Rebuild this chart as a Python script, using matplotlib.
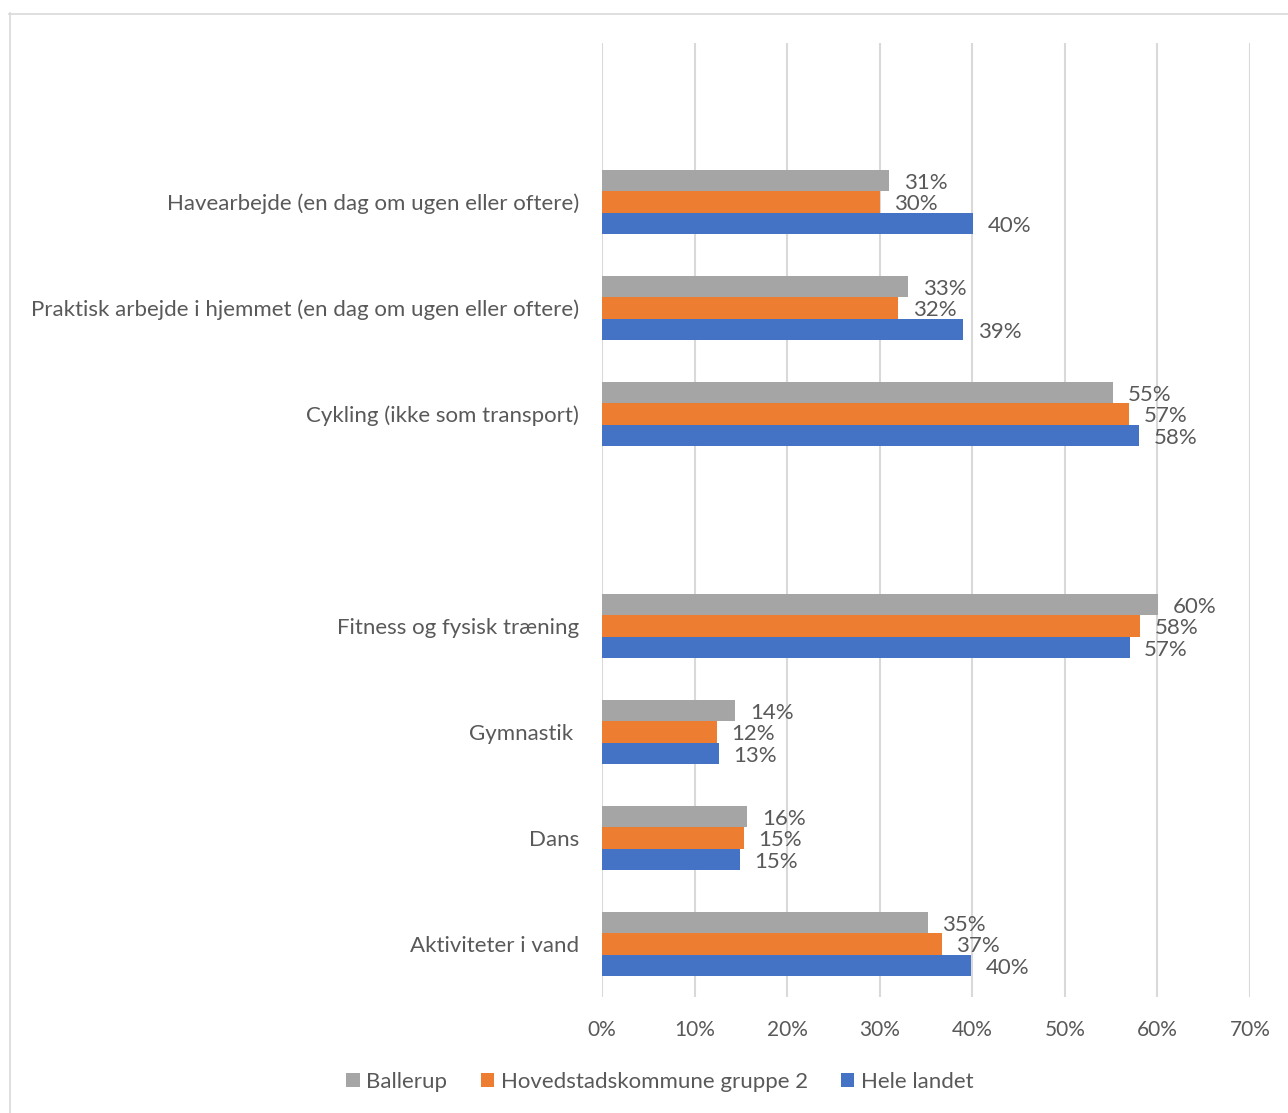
import matplotlib
matplotlib.use("Agg")
import matplotlib.pyplot as plt
from matplotlib.lines import Line2D
from matplotlib.patches import Patch

categories = [
    "Havearbejde (en dag om ugen eller oftere)",
    "Praktisk arbejde i hjemmet (en dag om ugen eller oftere)",
    "Cykling (ikke som transport)",
    "Fitness og fysisk træning",
    "Gymnastik ",
    "Dans",
    "Aktiviteter i vand",
]
# slot positions (top slot 0 and slot 4 are empty in the original)
slots = [1, 2, 3, 5, 6, 7, 8]

series_names = ["Ballerup", "Hovedstadskommune gruppe 2", "Hele landet"]
ballerup = [31.0, 33.1, 55.2, 60.1, 14.4, 15.7, 35.2]
hovedstad = [30.0, 32.0, 56.9, 58.1, 12.4, 15.3, 36.7]
hele = [40.1, 39.0, 58.0, 57.0, 12.6, 14.9, 39.9]
xticks = [0, 10, 20, 30, 40, 50, 60, 70]

colors = ["#A5A5A5", "#ED7D31", "#4472C4"]
txt = "#595959"
font = ["Lato", "DejaVu Sans"]
plt.rcParams["font.family"] = font
FS = 16

W, H = 1288, 1113
fig = plt.figure(figsize=(W / 100, H / 100), dpi=100)
ax = fig.add_axes([602 / W, 1 - 997 / H, (1250 - 602) / W, (997 - 43) / H])

bh = 0.2
offsets = [-0.2, 0.0, 0.2]
for vals, off, col in zip([ballerup, hovedstad, hele], offsets, colors):
    ys = [s + off for s in slots]
    ax.barh(ys, vals, height=bh, color=col, zorder=3)
    for y, v in zip(ys, vals):
        ax.annotate(f"{round(v)}%", (v, y), xytext=(10.5, -1.8), textcoords="offset points",
                    ha="left", va="center", fontsize=FS, color=txt)

ax.set_xlim(0, 70)
ax.set_ylim(8.5, -0.5)
ax.set_xticks(xticks)
ax.set_xticklabels([f"{t}%" for t in xticks])
ax.set_yticks(slots)
ax.set_yticklabels(categories)
ax.tick_params(axis="y", length=0, pad=16.5, labelsize=FS, labelcolor=txt)
ax.tick_params(axis="x", length=0, pad=16.5, labelsize=15, labelcolor=txt)
ax.grid(axis="x", color="#D9D9D9", linewidth=1.5, zorder=0)
for s in ax.spines.values():
    s.set_visible(False)

handles = [Patch(facecolor=c, edgecolor="none") for c in colors]
fig.legend(handles, series_names, loc="center", bbox_to_anchor=(660 / W, 1 - 1082 / H),
           ncol=3, frameon=False, fontsize=FS, labelcolor=txt,
           handlelength=0.6, handleheight=0.6, handletextpad=0.3, columnspacing=1.5)

# outer chart border
fig.add_artist(Line2D([9.5 / W, 9.5 / W], [0, 1 - 13 / H], color="#D9D9D9", lw=1.2))
fig.add_artist(Line2D([9 / W, 1], [1 - 13.5 / H, 1 - 13.5 / H], color="#D9D9D9", lw=1.2))

fig.savefig("out.png", dpi=100)
